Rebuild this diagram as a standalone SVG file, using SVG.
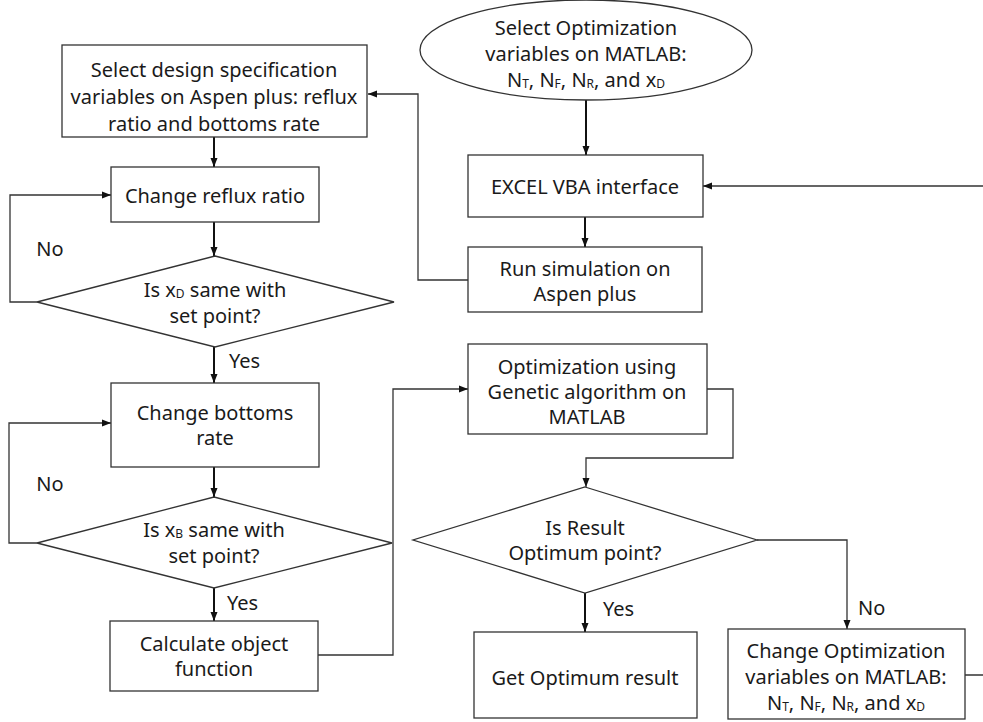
<svg xmlns="http://www.w3.org/2000/svg" width="983" height="722" viewBox="0 0 983 722">
<style>
.n{fill:#fff;stroke:#333;stroke-width:1.3}
text{font-family:"Noto Sans","Open Sans",sans-serif;font-size:20px;fill:#1a1a1a;text-anchor:middle;dominant-baseline:central}
.l{text-anchor:start}
.c{fill:none;stroke:#333;stroke-width:1.3}
.t{fill:none;stroke:#111;stroke-width:2}
.s{font-size:12px}
</style>
<defs>
<marker id="a" markerUnits="userSpaceOnUse" markerWidth="10" markerHeight="10" refX="9" refY="5" orient="auto"><path d="M0,1.5 L9,5 L0,8.5z" fill="#111"/></marker>
</defs>
<g id="connectors">
<path class="t" d="M586,100 V155" marker-end="url(#a)"/>
<path class="t" d="M585,217 V247" marker-end="url(#a)"/>
<path class="c" d="M468,280 H418 V94 H368" marker-end="url(#a)"/>
<path class="t" d="M214,137 V167" marker-end="url(#a)"/>
<path class="t" d="M214,222 V256" marker-end="url(#a)"/>
<path class="c" d="M37,302 H10 V195 H111" marker-end="url(#a)"/>
<path class="t" d="M214,347 V383" marker-end="url(#a)"/>
<path class="t" d="M214,467 V497" marker-end="url(#a)"/>
<path class="c" d="M37,543 H9 V423 H111" marker-end="url(#a)"/>
<path class="t" d="M214,588 V621" marker-end="url(#a)"/>
<path class="c" d="M318,655 H393 V389 H468" marker-end="url(#a)"/>
<path class="c" d="M707,389 H733 V458 H586 V487" marker-end="url(#a)"/>
<path class="t" d="M585,593 V632" marker-end="url(#a)"/>
<path class="c" d="M757,540 H847 V629" marker-end="url(#a)"/>
<path class="c" d="M965,675 H1000 V186 H703" marker-end="url(#a)"/>
<text x="50" y="248">No</text>
<text x="50" y="483">No</text>
<text class="l" x="229" y="360">Yes</text>
<text class="l" x="227" y="602">Yes</text>
<text class="l" x="603" y="608">Yes</text>
<text class="l" x="858" y="607">No</text>
</g>
<g id="start">
<ellipse class="n" cx="586" cy="50" rx="166" ry="50"/>
<text x="586" y="27">Select Optimization</text>
<text x="586" y="53">variables on MATLAB:</text>
<text x="586" y="79">N<tspan class="s" dy="4">T</tspan><tspan dy="-4">, N</tspan><tspan class="s" dy="4">F</tspan><tspan dy="-4">, N</tspan><tspan class="s" dy="4">R</tspan><tspan dy="-4">, and x</tspan><tspan class="s" dy="4">D</tspan></text>
</g>
<g id="design">
<rect class="n" x="62" y="45" width="305" height="92"/>
<text x="214" y="69">Select design specification</text>
<text x="214" y="96">variables on Aspen plus: reflux</text>
<text x="214" y="123">ratio and bottoms rate</text>
</g>
<g id="reflux">
<rect class="n" x="111" y="167" width="208" height="55"/>
<text x="215" y="195">Change reflux ratio</text>
</g>
<g id="check-xd">
<polygon class="n" points="215,256 394,302 215,347 37,302"/>
<text x="215" y="289">Is x<tspan class="s" dy="4">D</tspan><tspan dy="-4"> same with</tspan></text>
<text x="215" y="315">set point?</text>
</g>
<g id="bottoms">
<rect class="n" x="111" y="383" width="208" height="84"/>
<text x="215" y="412">Change bottoms</text>
<text x="215" y="437">rate</text>
</g>
<g id="check-xb">
<polygon class="n" points="214,497 392,543 214,588 37,543"/>
<text x="214" y="529">Is x<tspan class="s" dy="4">B</tspan><tspan dy="-4"> same with</tspan></text>
<text x="214" y="555">set point?</text>
</g>
<g id="calc">
<rect class="n" x="110" y="621" width="208" height="70"/>
<text x="214" y="643">Calculate object</text>
<text x="214" y="668">function</text>
</g>
<g id="excel">
<rect class="n" x="468" y="155" width="235" height="62"/>
<text x="585" y="186">EXCEL VBA interface</text>
</g>
<g id="run">
<rect class="n" x="468" y="247" width="234" height="65"/>
<text x="585" y="268">Run simulation on</text>
<text x="585" y="293">Aspen plus</text>
</g>
<g id="ga">
<rect class="n" x="468" y="344" width="239" height="90"/>
<text x="587" y="366">Optimization using</text>
<text x="587" y="391">Genetic algorithm on</text>
<text x="587" y="416">MATLAB</text>
</g>
<g id="check-opt">
<polygon class="n" points="585,487 757,540 585,593 413,540"/>
<text x="585" y="527">Is Result</text>
<text x="585" y="552">Optimum point?</text>
</g>
<g id="result">
<rect class="n" x="474" y="632" width="223" height="86"/>
<text x="585" y="677">Get Optimum result</text>
</g>
<g id="change-opt">
<rect class="n" x="728" y="629" width="237" height="90"/>
<text x="846" y="650">Change Optimization</text>
<text x="846" y="676">variables on MATLAB:</text>
<text x="846" y="702">N<tspan class="s" dy="4">T</tspan><tspan dy="-4">, N</tspan><tspan class="s" dy="4">F</tspan><tspan dy="-4">, N</tspan><tspan class="s" dy="4">R</tspan><tspan dy="-4">, and x</tspan><tspan class="s" dy="4">D</tspan></text>
</g>
</svg>
